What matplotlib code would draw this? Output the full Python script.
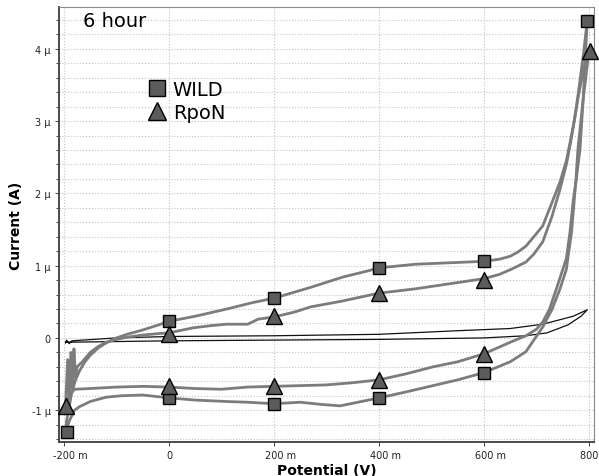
"""Cyclic voltammogram, 6 hour sample: WILD vs RpoN."""

from __future__ import annotations

import matplotlib

matplotlib.use("Agg")
from matplotlib import pyplot as plt
from matplotlib import transforms as mtransforms
from matplotlib.lines import Line2D
from matplotlib.ticker import FixedLocator, MultipleLocator

# WILD loop, potential in V, current in uA (forward sweep, then return sweep)
WILD_FWD_V = [-0.197, -0.195, -0.19, -0.185, -0.178, -0.17, -0.16, -0.15, -0.135, -0.12,
              -0.10, -0.08, -0.05, -0.02, 0.0, 0.05, 0.11, 0.16, 0.20, 0.27, 0.33, 0.38,
              0.40, 0.47, 0.535, 0.60, 0.63, 0.65, 0.665, 0.68, 0.695, 0.712, 0.73,
              0.745, 0.757, 0.764, 0.772, 0.78, 0.79, 0.797]
WILD_FWD_I = [-1.32, -1.15, -0.95, -0.75, -0.58, -0.45, -0.33, -0.24, -0.14, -0.07,
              0.0, 0.05, 0.11, 0.18, 0.23, 0.30, 0.40, 0.49, 0.55, 0.70, 0.84, 0.93,
              0.97, 1.02, 1.04, 1.06, 1.09, 1.13, 1.19, 1.27, 1.40, 1.55, 1.88,
              2.16, 2.45, 2.70, 3.00, 3.40, 3.95, 4.41]
WILD_REV_V = [0.797, 0.789, 0.779, 0.775, 0.767, 0.757, 0.745, 0.73, 0.712, 0.695,
              0.68, 0.663, 0.65, 0.60, 0.55, 0.503, 0.45, 0.40, 0.326, 0.29, 0.25,
              0.20, 0.15, 0.11, 0.05, 0.0, -0.05, -0.09, -0.12, -0.15, -0.17, -0.18,
              -0.19, -0.197]
WILD_REV_I = [4.41, 3.30, 2.61, 2.16, 1.47, 0.95, 0.68, 0.40, 0.15, -0.03,
              -0.19, -0.27, -0.33, -0.48, -0.58, -0.66, -0.75, -0.83, -0.94, -0.92, -0.89,
              -0.91, -0.89, -0.88, -0.86, -0.83, -0.79, -0.80, -0.82, -0.88, -0.95, -1.00,
              -1.15, -1.32]

# RpoN loop
RPON_FWD_V = [-0.197, -0.193, -0.19, -0.187, -0.184, -0.181, -0.178, -0.175, -0.165,
              -0.15, -0.135, -0.12, -0.10, -0.08, -0.05, -0.02, 0.0, 0.046, 0.08,
              0.11, 0.15, 0.17, 0.20, 0.24, 0.27, 0.33, 0.40, 0.47, 0.535, 0.60,
              0.63, 0.655, 0.68, 0.695, 0.712, 0.73, 0.745, 0.757, 0.765, 0.772,
              0.78, 0.79, 0.80]
RPON_FWD_I = [-0.94, -0.30, -0.85, -0.20, -0.70, -0.15, -0.55, -0.40, -0.33,
              -0.20, -0.12, -0.06, -0.02, 0.01, 0.04, 0.06, 0.07, 0.14, 0.17,
              0.19, 0.19, 0.26, 0.29, 0.36, 0.43, 0.51, 0.62, 0.68, 0.75, 0.82,
              0.88, 0.96, 1.05, 1.16, 1.33, 1.69, 2.06, 2.40, 2.70, 3.00,
              3.35, 3.72, 3.97]
RPON_REV_V = [0.80, 0.789, 0.783, 0.776, 0.77, 0.764, 0.757, 0.739, 0.725, 0.712,
              0.70, 0.68, 0.663, 0.65, 0.60, 0.55, 0.503, 0.45, 0.40, 0.35, 0.30,
              0.25, 0.20, 0.15, 0.10, 0.05, 0.0, -0.05, -0.10, -0.15, -0.18, -0.19,
              -0.197]
RPON_REV_I = [3.97, 3.30, 2.61, 2.20, 1.90, 1.47, 1.10, 0.70, 0.40, 0.22,
              0.12, 0.03, -0.02, -0.06, -0.22, -0.33, -0.40, -0.50, -0.58, -0.62, -0.65,
              -0.66, -0.67, -0.68, -0.71, -0.70, -0.68, -0.67, -0.68, -0.70, -0.71, -0.80,
              -0.94]

# blank electrode loop (thin black)
BLANK_V = [-0.197, -0.195, -0.19, -0.185, -0.1, 0.0, 0.2, 0.4, 0.55, 0.65, 0.712,
           0.77, 0.797, 0.785, 0.76, 0.72, 0.68, 0.6, 0.4, 0.2, 0.0, -0.1, -0.197]
BLANK_I = [-0.07, -0.03, -0.08, -0.04, 0.0, 0.02, 0.03, 0.05, 0.10, 0.13, 0.19,
           0.30, 0.39, 0.30, 0.18, 0.07, 0.03, 0.0, -0.02, -0.03, -0.04, -0.05, -0.06]

# symbol positions
WILD_MARK_V = [-0.195, 0.0, 0.0, 0.2, 0.2, 0.4, 0.4, 0.6, 0.6, 0.797]
WILD_MARK_I = [-1.30, 0.23, -0.83, 0.55, -0.91, 0.97, -0.83, 1.06, -0.48, 4.38]
RPON_MARK_V = [-0.196, 0.0, 0.0, 0.2, 0.2, 0.4, 0.4, 0.6, 0.6, 0.802]
RPON_MARK_I = [-0.94, 0.05, -0.66, 0.30, -0.66, 0.62, -0.58, 0.80, -0.22, 3.97]

X_TICKS = [-0.2, 0.0, 0.2, 0.4, 0.6, 0.8]
X_TICK_LABELS = ["-200 m", "0", "200 m", "400 m", "600 m", "800 m"]
Y_TICKS = [-1, 0, 1, 2, 3, 4]
Y_TICK_LABELS = ["-1 μ", "0", "1 μ", "2 μ", "3 μ", "4 μ"]

CURVE_GRAY = "#7c7c7c"
MARK_GRAY = "#5c5c5c"

figure = plt.figure(figsize=(5.99, 4.77), dpi=100)
axis = figure.add_axes([0.0985, 0.0713, 0.893, 0.912])

axis.plot(BLANK_V, BLANK_I, color="#111111", linewidth=0.9, zorder=2)
for volts, amps in ((WILD_FWD_V, WILD_FWD_I), (WILD_REV_V, WILD_REV_I),
                    (RPON_FWD_V, RPON_FWD_I), (RPON_REV_V, RPON_REV_I)):
    axis.plot(volts, amps, color=CURVE_GRAY, linewidth=2.0, zorder=3)

axis.plot(WILD_MARK_V, WILD_MARK_I, linestyle="none", marker="s", markersize=9,
          markerfacecolor=MARK_GRAY, markeredgecolor="black", markeredgewidth=1.0,
          zorder=4, clip_on=False)
axis.plot(RPON_MARK_V, RPON_MARK_I, linestyle="none", marker="^", markersize=11,
          markerfacecolor=MARK_GRAY, markeredgecolor="black", markeredgewidth=1.0,
          zorder=4, clip_on=False)

axis.set_xlim(-0.2095, 0.8095)
axis.set_ylim(-1.44, 4.58)

axis.xaxis.set_major_locator(FixedLocator(X_TICKS))
axis.set_xticklabels(X_TICK_LABELS)
axis.yaxis.set_major_locator(FixedLocator(Y_TICKS))
axis.set_yticklabels(Y_TICK_LABELS)
axis.yaxis.set_minor_locator(MultipleLocator(0.2))
axis.tick_params(axis="both", which="both", labelsize=7, colors="#222222",
                 length=3, width=0.6, pad=3)
axis.tick_params(axis="y", which="minor", length=2)

# numbers sit centred on the tick, the unit suffix hangs to the right
offset = mtransforms.ScaledTranslation(0.065, 0, figure.dpi_scale_trans)
for label in axis.get_xticklabels():
    if label.get_text().endswith("m"):
        label.set_transform(label.get_transform() + offset)

axis.grid(True, which="major", axis="both", color="#c4c4c4", linestyle=":", linewidth=0.8)
axis.grid(True, which="minor", axis="y", color="#c4c4c4", linestyle=":", linewidth=0.8)
axis.set_axisbelow(True)

for side in ("top", "right"):
    axis.spines[side].set_color("#8a8a8a")
    axis.spines[side].set_linewidth(0.8)
for side in ("left", "bottom"):
    axis.spines[side].set_color("#4a4a4a")
    axis.spines[side].set_linewidth(1.4)

axis.set_xlabel("Potential (V)", fontsize=10, fontweight="bold", labelpad=2)
axis.set_ylabel("Current (A)", fontsize=10, fontweight="bold", labelpad=6)

axis.text(0.045, 0.968, "6 hour", transform=axis.transAxes, fontsize=14,
          ha="left", va="center")

handles = [
    Line2D([], [], linestyle="none", marker="s", markersize=11,
           markerfacecolor=MARK_GRAY, markeredgecolor="black"),
    Line2D([], [], linestyle="none", marker="^", markersize=13,
           markerfacecolor=MARK_GRAY, markeredgecolor="black"),
]
axis.legend(handles, ["WILD", "RpoN"], loc="upper left", bbox_to_anchor=(0.14, 0.863),
            frameon=False, fontsize=14, handlelength=1.0, handletextpad=0.3,
            labelspacing=0.2, borderpad=0.2)

figure.savefig("out.png", dpi=100)
plt.close(figure)
